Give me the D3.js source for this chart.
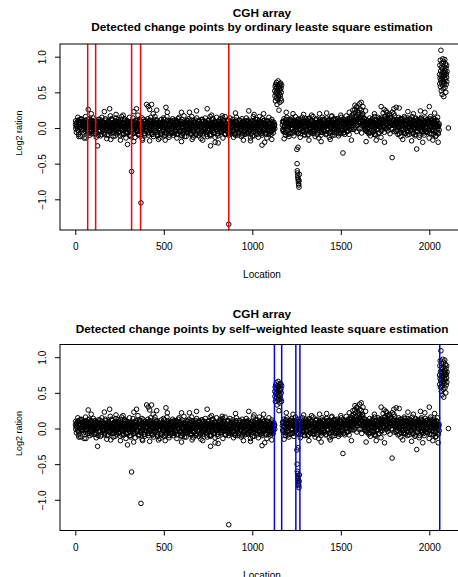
<!DOCTYPE html>
<html>
<head>
<meta charset="utf-8">
<script src="https://cdn.jsdelivr.net/npm/d3@7"></script>
<style>
body { margin: 0; background: #fff; }
text { font-family: "Liberation Sans", Arial, Helvetica, sans-serif; fill: #000; }
</style>
</head>
<body>
<svg id="chart" width="458" height="577"></svg>
<script>
// ---- data (log2 ratio per probe) ----
// normal-copy probes; three interleaved runs, each sampled every 4 locations
var probeStep = 4;
var leftStartA = 1, leftStartB = 3, leftStartC = 2;
var baselineLeftA = [
 .05,.02,.08,-.03,.11,.04,.00,.07,.13,-.02,.06,.09,.01,.04,-.05,.10,.03,.07,.12,.02,
 -.04,.06,.01,-.08,.03,.09,-.02,.05,.00,-.06,.08,.02,-.10,.04,.07,-.03,.01,.10,-.05,.03,
 .06,-.07,.02,.11,-.01,.04,-.09,.07,.00,.05,-.04,.13,.02,-.06,.08,.01,-.11,.05,.03,-.02,
 .09,.00,-.05,.06,.12,-.03,.02,-.08,.04,.07,-.01,.10,-.06,.03,.00,.08,-.04,.05,-.12,.02,
 .04,-.02,.07,-.07,.01,.11,.03,-.05,.06,-.10,.02,.09,-.03,.05,.14,-.01,.03,-.08,.06,.00,
 -.04,.08,.02,-.06,.10,.01,-.02,.05,-.09,.07,.03,-.05,.12,.00,-.03,.06,-.11,.04,.08,-.01,
 .02,-.07,.05,.09,-.03,.01,.06,-.10,.03,.00,.11,-.04,.07,-.02,.04,-.08,.02,.10,-.06,.05,
 .01,-.03,.08,-.09,.04,.13,-.01,.06,-.05,.02,.09,-.07,.00,.05,-.12,.03,.07,-.02,.10,-.04,
 .06,.00,-.08,.04,.11,-.03,.02,-.06,.08,.01,-.10,.05,.03,-.04,.09,-.01,.06,-.07,.02,.12,
 -.05,.03,.07,-.02,.00,-.09,.05,.10,-.04,.02,.06,-.11,.01,.08,-.03,.04,-.06,.09,.00,-.02,
 .05,-.08,.03,.11,-.01,.06,-.05,.02,.14,-.03,.00,.07,-.09,.04,.01,-.06,.10,.03,-.02,.05,
 -.07,.02,.09,-.04,.06,.00,-.10,.04,.08,-.01,.03,-.06,.11,.02,-.03,.05,-.08,.07,.01,-.05,
 .03,.10,-.02,.05,-.07,.01,.08,-.04,.00,.06,-.11,.03,.09,-.01,.04,-.05,.02,.12,-.03,.06,
 -.02,.04,-.08,.07,.01,-.05,.10,.03,-.01,.06,-.09,.02,.05,-.04,.08,.00,-.06,.03,.09,-.03,
 .01,.04
];
var baselineLeftB = [
 -.01,.07,.03,.10,-.04,.06,.12,.01,-.02,.09,.04,-.06,.08,.02,.11,-.03,.05,.00,.09,-.07,
 .03,.10,-.05,.01,.07,-.02,.04,.11,-.08,.06,.00,.09,.02,-.04,.12,.05,-.09,.03,.07,-.01,
 .08,-.03,.05,.00,-.10,.06,.02,.09,-.05,.03,.12,-.02,.07,.01,-.07,.04,.10,-.04,.00,.06,
 -.06,.03,.09,-.01,.05,-.09,.07,.02,-.03,.11,.00,-.07,.05,.08,-.02,.03,-.10,.06,.09,.01,
 .07,-.04,.00,.08,-.06,.03,.10,-.01,.05,-.08,.12,.02,-.05,.07,-.02,.04,.09,-.11,.01,.06,
 .02,.09,-.07,.04,.00,.11,-.03,.06,.01,-.09,.05,.08,-.04,.02,.10,-.06,.03,-.01,.07,.04,
 -.09,.05,.01,.08,-.02,.12,.03,-.06,.07,-.03,.00,.06,-.10,.04,.09,-.01,.05,-.07,.02,.11,
 .04,-.05,.10,.00,-.08,.06,.02,.09,-.03,.05,-.11,.07,.01,-.04,.08,.03,-.06,.11,.00,-.02,
 -.03,.08,.02,-.07,.05,.00,.10,-.04,.03,.07,-.09,.01,.06,-.02,.11,.04,-.08,.02,-.05,.09,
 .06,-.01,.04,.09,-.06,.02,-.03,.07,.00,-.10,.05,.03,.12,-.04,.06,-.07,.01,.08,-.02,.04,
 -.08,.06,.00,-.03,.09,.02,-.06,.05,.10,-.01,.03,-.09,.07,.00,-.04,.11,.02,-.07,.05,.08,
 .01,-.05,.07,.03,-.09,.05,.11,-.02,.04,.00,-.07,.08,-.03,.06,.01,-.10,.09,.03,-.04,.07,
 -.01,.05,-.06,.09,.02,-.03,.06,.00,-.08,.10,.03,-.05,.07,.01,-.02,.08,-.09,.04,.00,.05,
 .08,-.04,.02,-.07,.06,.10,-.02,.04,-.06,.01,.09,-.03,.05,-.08,.02,.07,-.05,.00,.06,-.02,
 .03,-.01
];
var baselineLeftC = [
 .10,-.06,.03,.15,-.09,.07,.01,-.12,.12,.04,-.03,.09,-.14,.06,.16,-.01,.08,-.07,.02,.13,
 -.10,.05,.11,-.04,.00,.14,-.08,.03,.09,-.13,.06,.01,.12,-.05,.08,-.11,.04,.15,-.02,.07,
 .03,-.09,.13,.06,-.15,.02,.10,-.04,.07,.17,-.07,.01,.11,-.12,.05,.09,-.03,.14,-.08,.00,
 .12,-.05,.08,-.11,.04,.16,-.01,.06,-.09,.13,.02,-.14,.07,.10,-.06,.03,.15,-.10,.05,-.02,
 .09,.14,-.07,.02,-.13,.08,.05,-.04,.18,-.09,.03,.11,-.06,.07,-.15,.01,.12,.04,-.08,.10,
 -.03,.07,.13,-.10,.06,-.01,.15,-.07,.02,.09,-.12,.05,.16,-.04,.00,.11,-.09,.08,.03,-.14,
 .06,.12,-.05,.01,.14,-.11,.07,.04,-.08,.16,-.02,.09,-.13,.05,.10,-.06,.02,.13,-.10,.08,
 -.07,.03,.11,-.14,.09,.00,.15,-.05,.06,-.10,.12,.02,-.08,.17,-.03,.07,-.12,.04,.10,-.06,
 .13,-.02,.05,-.09,.16,.01,-.13,.08,.03,.11,-.07,.14,-.04,.06,-.11,.09,.02,-.15,.12,.04,
 -.08,.10,.02,.14,-.05,.07,-.12,.03,.11,-.02,.16,-.09,.05,.00,.13,-.07,.08,-.13,.06,.15,
 .01,-.11,.09,.04,-.06,.13,-.03,.07,-.14,.10,.02,.16,-.08,.05,-.01,.11,-.10,.06,.14,-.05,
 .08,-.04,.12,-.13,.03,.09,-.07,.15,.00,-.10,.06,.11,-.02,.04,-.12,.13,.07,-.06,.10,-.09,
 .05,.14,-.08,.02,.11,-.05,.07,-.14,.09,.03,-.01,.16,-.11,.06,.12,-.07,.01,.08,-.13,.10,
 -.06,.09,.04,-.10,.13,-.02,.07,.11,-.08,.05,-.14,.10,.00,.15,-.04,.06,-.09,.12,.02,-.07,
 .08,.05
];
var rightStartA = 1170, rightStartB = 1172, rightStartC = 1171;
var baselineRightA = [
 .04,-.03,.08,.01,.11,-.06,.05,.02,-.09,.07,.03,.12,-.02,.06,.00,-.07,.09,.04,-.04,.10,
 .02,-.05,.07,.13,-.01,.05,-.08,.03,.08,-.03,.11,.01,-.06,.06,.02,.09,-.10,.04,.00,.07,
 -.02,.05,.10,-.07,.03,.06,-.04,.12,.01,-.09,.08,.02,-.03,.05,.09,-.06,.03,.00,.11,-.05,
 .06,.02,-.08,.07,-.01,.10,.04,-.05,.08,.00,-.11,.06,.03,.13,-.02,.05,-.07,.09,.01,-.04,
 .07,.03,-.06,.10,.02,-.03,.08,.05,-.09,.04,.11,.00,.06,-.04,.09,.03,.12,.07,-.02,.10,
 .06,-.02,.09,.01,.11,-.05,.04,.08,-.01,.07,.12,.00,-.07,.05,.10,.02,-.01,.08,.04,-.05,
 .06,.01,-.08,.09,.03,-.03,.07,.11,-.06,.04,.00,.10,-.10,.05,.08,-.02,.06,.13,.01,-.04,
 .07,-.03,.10,.02,-.06,.08,.13,.00,.05,-.04,.11,.03,-.08,.06,.09,-.02,.04,.12,-.05,.07,
 .08,-.05,.11,.04,.02,-.08,.07,.12,-.01,.05,.09,-.06,.03,.14,.00,.06,-.04,.10,.02,-.09,
 .05,.11,-.02,.07,.03,-.07,.09,.01,.13,-.04,.06,.10,-.01,.04,-.10,.08,.02,.12,-.05,.06,
 .03,-.03,.09,.00,.11,-.06,.05,.08,-.02,.13,.01,-.08,.07,.04,-.04,.10,.02,-.11,.06,.03,
 -.06,.04
];
var baselineRightB = [
 -.02,.09,.03,-.06,.07,.12,.00,-.04,.08,.02,-.08,.05,.10,-.01,.04,.11,-.05,.07,.01,-.03,
 .08,.03,-.07,.10,.05,-.02,.12,.00,-.05,.06,.02,-.09,.09,.04,-.03,.07,.13,-.01,.05,-.06,
 .10,.01,-.04,.08,-.08,.05,.02,.11,-.02,.06,.00,-.06,.09,.03,-.10,.07,.12,.01,-.03,.04,
 -.05,.09,.03,-.02,.11,.06,-.07,.04,.01,.10,-.03,.08,.00,-.06,.05,.12,-.01,.03,.07,-.08,
 .02,.10,.06,-.04,.08,.01,-.07,.11,.04,.00,.07,-.05,.13,.03,.09,-.02,.06,.15,.01,.08,
 .10,.16,.06,.22,.12,.04,.19,.09,.14,.27,.07,.17,.11,.20,.05,.13,.02,.09,-.03,.06,
 .00,.07,.04,-.06,.10,.02,-.03,.08,.05,-.09,.11,.01,.06,-.02,.09,.03,-.07,.04,.12,.00,
 .05,.12,.08,.01,.16,.06,.10,-.01,.13,.09,.03,.18,.07,.14,.00,.11,.05,.20,.04,.09,
 .03,.07,-.03,.10,.01,.05,.13,-.06,.08,.02,-.02,.11,.06,-.08,.09,.04,.00,.07,-.05,.12,
 .01,-.04,.08,.03,.11,-.01,.06,-.09,.04,.10,.02,-.05,.09,.00,.07,.13,-.03,.05,.02,-.07,
 .08,.04,-.05,.11,.01,.06,-.02,.09,-.08,.03,.07,.12,-.03,.05,.00,.08,-.06,.04,.10,-.01,
 .02,-.03
];
var baselineRightC = [
 .09,-.05,.13,.02,-.10,.07,.15,-.03,.06,-.12,.11,.04,-.07,.14,.00,.08,-.11,.05,.16,-.02,
 .06,.12,-.08,.03,.10,-.13,.07,.01,.15,-.05,.09,-.10,.04,.13,-.02,.11,.06,-.09,.14,.00,
 -.07,.10,.03,.16,-.04,.08,-.12,.05,.13,-.01,.07,-.14,.11,.02,.09,-.06,.15,-.03,.04,.12,
 .02,-.09,.14,.06,-.03,.11,-.13,.08,.01,.16,-.06,.05,.12,-.10,.07,.03,-.04,.13,.09,-.11,
 .11,.04,-.08,.15,.07,-.02,.12,-.06,.09,.02,.17,-.05,.10,.06,-.09,.14,.08,.03,.18,.11,
 .20,.13,.26,.09,.17,.30,.12,.22,.07,.19,.15,.25,.10,.18,.04,.14,.08,-.02,.12,.03,
 .10,-.06,.05,.14,-.11,.08,.02,.13,-.04,.07,.16,-.09,.03,.11,-.01,.15,-.07,.06,.09,-.13,
 .14,.07,.21,.03,.16,.10,.24,.05,.18,.12,.01,.20,.09,.15,.06,.22,.11,.04,.17,.08,
 -.04,.12,.06,-.09,.15,.02,.10,-.12,.07,.13,-.03,.09,.16,-.07,.04,.11,-.10,.14,.01,.08,
 .13,-.02,.06,.16,-.08,.10,.03,-.11,.14,.05,-.05,.12,.08,-.13,.09,.02,.15,-.06,.11,.04,
 -.10,.07,.14,.01,-.05,.12,.09,-.14,.06,.16,-.03,.10,.04,-.09,.13,.07,-.12,.11,.02,.15,
 -.08,.06
];

// scattered probes away from the main band
var fringeLoc = [73,90,164,194,230,270,331,346,403,412,431,420,440,460,512,520,600,645,685,745,770,830,905,980,1010,1064,1040,
 20,60,126,200,255,295,318,330,371,380,420,470,508,600,660,720,764,790,807,867,950,990,1055,1070,1110,
 1192,1230,1290,1335,1380,1420,1450,1500,1548,1568,1580,1591,1606,1615,1625,1640,1690,1728,1745,1760,1800,1813,1830,1879,1910,1950,1975,2000,2030,
 1180,1258,1320,1389,1440,1512,1560,1643,1700,1747,1790,1850,1900,1929,1963,2020,2050,2108];
var fringeVal = [.26,.2,.23,.27,.19,.18,.23,.27,.33,.3,.33,.26,.2,.25,.29,.22,.22,.22,.24,.27,.18,.17,.21,.24,.19,.2,.16,
 -.12,-.14,-.25,-.16,-.17,-.23,-.61,-.19,-1.05,-.17,-.18,-.16,-.17,-.19,-.16,-.17,-.25,-.2,-.21,-1.35,-.17,-.18,-.24,-.2,-.16,
 .22,.2,.19,.18,.2,.21,.17,.18,.22,.25,.32,.29,.34,.36,.3,.24,.2,.3,.26,.22,.27,.29,.28,.23,.2,.24,.22,.3,.21,
 -.15,-.27,-.17,-.19,-.16,-.35,-.17,-.19,-.17,-.2,-.415,-.16,-.18,-.295,-.2,-.17,-.2,0];

// aberrant segments
var gain1Range = [1127, 1166];
var gain1 = [.52,.45,.58,.38,.61,.49,.55,.42,.64,.50,.57,.33,.47,.60,.53,.40,.66,.51,.44,.58,.25,.55,.48,.62,.36,.59,.46,.53,.63,.41,.56,.50,.38,.60];
var lossRange = [1252, 1266];
var loss = [-.30,-.50,-.60,-.63,-.67,-.70,-.72,-.75,-.78,-.80,-.83,-.74,-.65];
var gain2Range = [2058, 2100];
var gain2 = [.75,.62,.88,.70,.95,.58,.80,.67,1.09,.73,.52,.85,.64,.91,.77,.47,.69,.83,.60,.97,.72,.55,.79,.66,.93,.44,.74,.86,.63,.78,.70,.96,.57,.81,.68,.90,.75,.50,.84,.61,.76,.71,.88,.65,.79];

// detected change points
var olsChangePoints = [70, 115, 318, 369, 867];
var swlsChangePoints = [1125, 1166, 1246, 1269, 2059];

var xTicks = [0, 500, 1000, 1500, 2000];
var yTicks = [-1, -0.5, 0, 0.5, 1];

// ---- build point table ----
var points = [];
function addRun(start, vals){
    vals.forEach(function(v, i){ points.push({loc: start + i * probeStep, val: v}); });
}
addRun(leftStartA, baselineLeftA);
addRun(leftStartB, baselineLeftB);
addRun(leftStartC, baselineLeftC);
addRun(rightStartA, baselineRightA);
addRun(rightStartB, baselineRightB);
addRun(rightStartC, baselineRightC);
fringeLoc.forEach(function(l, i){ points.push({loc: l, val: fringeVal[i]}); });
function addSegment(range, vals){
    var s = d3.scaleLinear().domain([0, vals.length - 1]).range(range);
    vals.forEach(function(v, i){ points.push({loc: s(i), val: v}); });
}
addSegment(gain1Range, gain1);
addSegment(lossRange, loss);
addSegment(gain2Range, gain2);
points.sort(function(a, b){ return a.loc - b.loc; });

var svg = d3.select('#chart');

function panel(top, m){
    var g = svg.append('g').attr('transform', 'translate(0,' + top + ')');
    var box = {left: 60, right: 466, top: 44, bottom: 230};
    var x = d3.scaleLinear().domain([0, 2000]).range([75.3, 429.3]);
    var y = d3.scaleLinear().domain([-1, 1]).range([199.3, 56.7]);

    // titles
    g.append('text').attr('x', 262).attr('y', 17)
        .attr('text-anchor', 'middle').style('font-weight', 'bold').style('font-size', '11.8px')
        .text('CGH array');
    g.append('text').attr('x', 262).attr('y', m.subY)
        .attr('text-anchor', 'middle').style('font-weight', 'bold').style('font-size', '11.8px')
        .text(m.subtitle);

    // points
    g.append('g').selectAll('circle')
        .data(points)
        .enter().append('circle')
          .attr('cx', function(d){ return x(d.loc); })
          .attr('cy', function(d){ return y(d.val); })
          .attr('r', 2.3)
          .attr('fill', 'none')
          .attr('stroke', '#000')
          .attr('stroke-width', 1);

    // change points
    g.append('g').selectAll('line')
        .data(m.changes)
        .enter().append('line')
          .attr('x1', function(d){ return x(d); })
          .attr('x2', function(d){ return x(d); })
          .attr('y1', box.top).attr('y2', box.bottom)
          .attr('stroke', m.color)
          .attr('stroke-width', 1.5);

    // box
    g.append('rect')
        .attr('x', box.left).attr('y', box.top)
        .attr('width', box.right - box.left).attr('height', box.bottom - box.top)
        .attr('fill', 'none').attr('stroke', '#000').attr('stroke-width', 1);

    // x axis
    var xa = g.append('g').attr('transform', 'translate(0,' + box.bottom + ')')
        .call(d3.axisBottom(x).tickValues(xTicks).tickSize(5).tickPadding(8).tickFormat(d3.format('d')));
    xa.select('.domain').remove();
    xa.selectAll('text').style('font-size', '10px').attr('font-family', null);
    xa.selectAll('line').attr('stroke-width', 1);

    // y axis
    var ya = g.append('g').attr('transform', 'translate(' + box.left + ',0)')
        .call(d3.axisLeft(y).tickValues(yTicks).tickSize(5).tickFormat(d3.format('.1f')));
    ya.select('.domain').remove();
    ya.selectAll('text')
        .style('font-size', '10px').attr('font-family', null)
        .attr('x', null).attr('dy', null)
        .attr('text-anchor', 'middle')
        .attr('transform', 'translate(-14.5,0) rotate(-90)');

    // axis labels
    g.append('text').attr('x', 262).attr('y', 278)
        .attr('text-anchor', 'middle').style('font-size', '10px').text('Location');
    g.append('text')
        .attr('transform', 'translate(22,' + 133 + ') rotate(-90)')
        .attr('text-anchor', 'middle').style('font-size', '9px').text('Log2 ration');
}

panel(0, {subtitle: 'Detected change points by ordinary leaste square estimation', subY: 31,
          changes: olsChangePoints, color: '#ff0000'});
panel(300.5, {subtitle: 'Detected change points by self\u2212weighted leaste square estimation', subY: 32,
          changes: swlsChangePoints, color: '#0000ff'});
</script>
</body>
</html>
